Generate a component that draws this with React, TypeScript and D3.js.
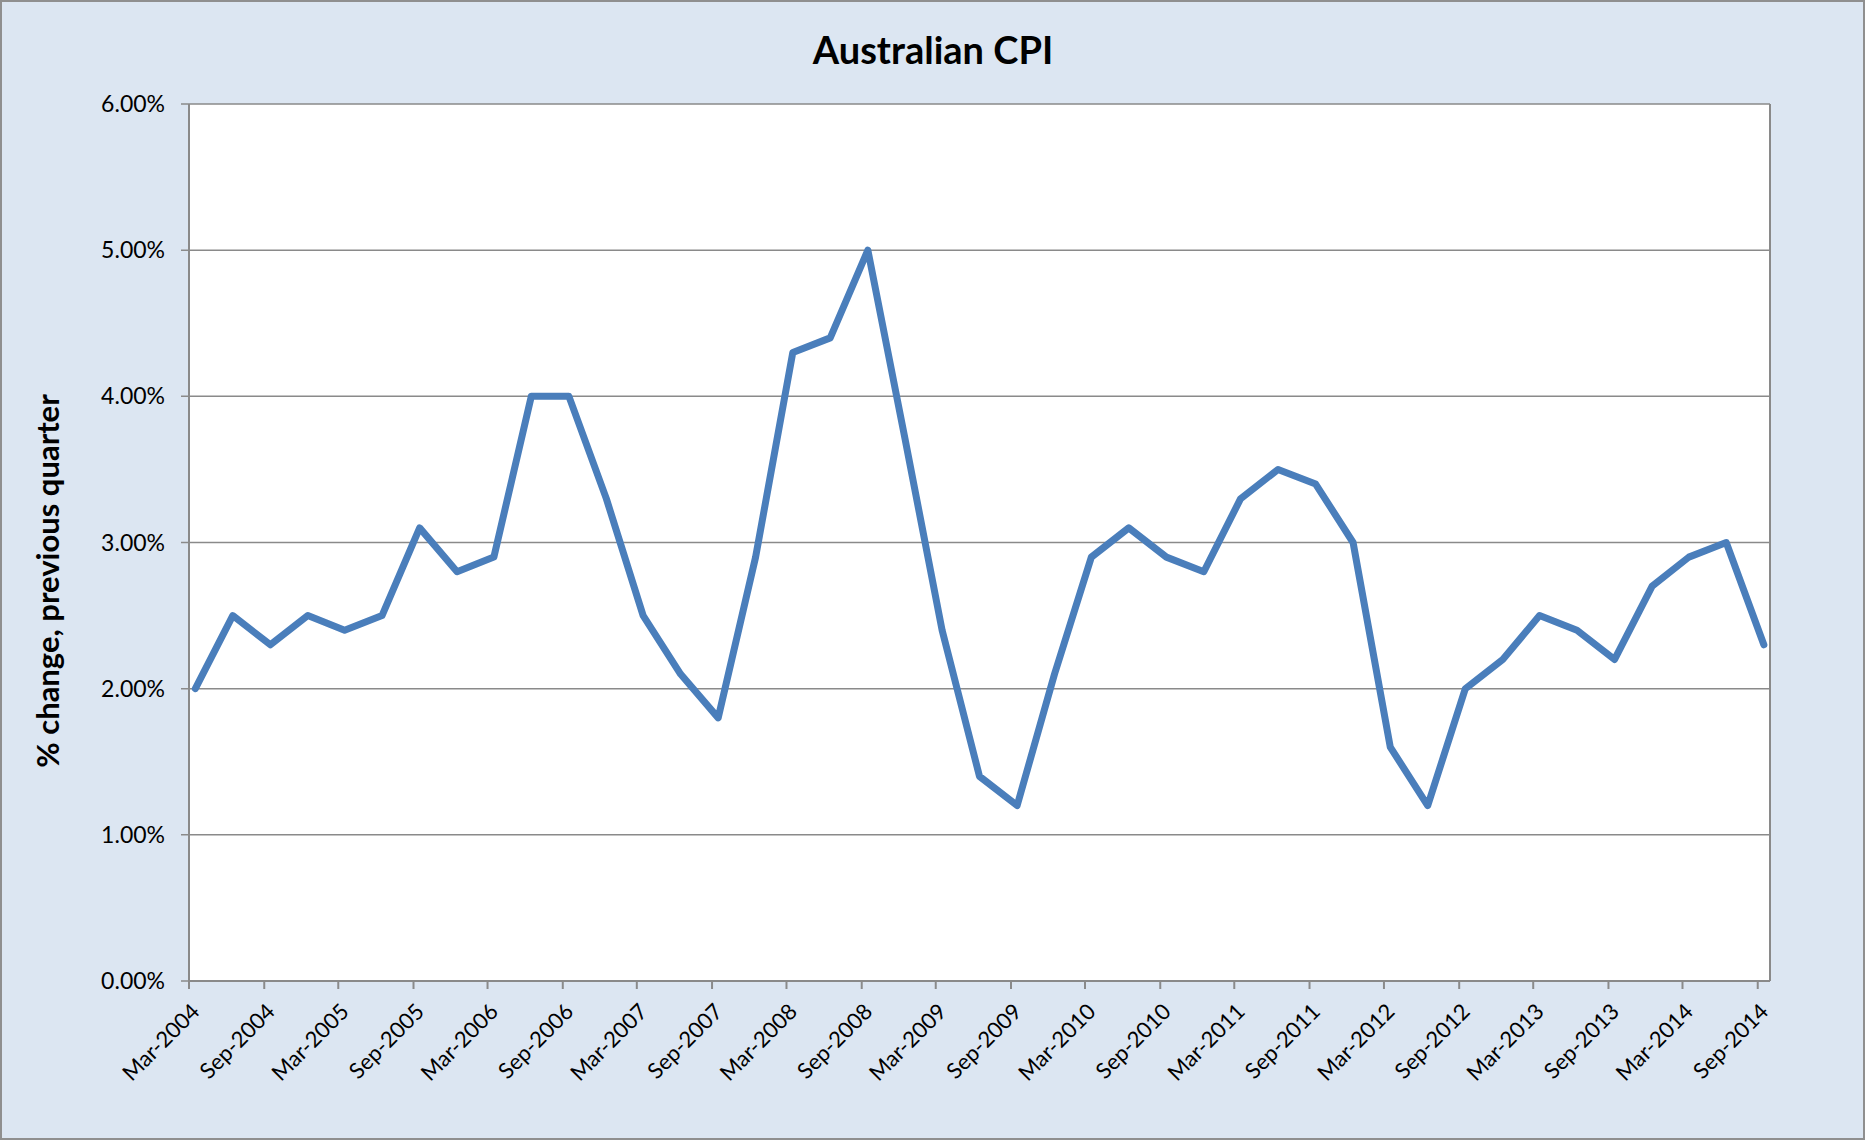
import React from "react";
import * as d3 from "d3";

const chartTitle = "Australian CPI";
const yAxisTitle = "% change, previous quarter";

const quarterLabels = [
  "Mar-2004", "Jun-2004", "Sep-2004", "Dec-2004",
  "Mar-2005", "Jun-2005", "Sep-2005", "Dec-2005",
  "Mar-2006", "Jun-2006", "Sep-2006", "Dec-2006",
  "Mar-2007", "Jun-2007", "Sep-2007", "Dec-2007",
  "Mar-2008", "Jun-2008", "Sep-2008", "Dec-2008",
  "Mar-2009", "Jun-2009", "Sep-2009", "Dec-2009",
  "Mar-2010", "Jun-2010", "Sep-2010", "Dec-2010",
  "Mar-2011", "Jun-2011", "Sep-2011", "Dec-2011",
  "Mar-2012", "Jun-2012", "Sep-2012", "Dec-2012",
  "Mar-2013", "Jun-2013", "Sep-2013", "Dec-2013",
  "Mar-2014", "Jun-2014", "Sep-2014",
];

const cpiValues = [
  2.0, 2.5, 2.3, 2.5,
  2.4, 2.5, 3.1, 2.8,
  2.9, 4.0, 4.0, 3.3,
  2.5, 2.1, 1.8, 2.9,
  4.3, 4.4, 5.0, 3.7,
  2.4, 1.4, 1.2, 2.1,
  2.9, 3.1, 2.9, 2.8,
  3.3, 3.5, 3.4, 3.0,
  1.6, 1.2, 2.0, 2.2,
  2.5, 2.4, 2.2, 2.7,
  2.9, 3.0, 2.3,
];

const xTickLabels = [
  "Mar-2004", "Sep-2004", "Mar-2005", "Sep-2005", "Mar-2006", "Sep-2006",
  "Mar-2007", "Sep-2007", "Mar-2008", "Sep-2008", "Mar-2009", "Sep-2009",
  "Mar-2010", "Sep-2010", "Mar-2011", "Sep-2011", "Mar-2012", "Sep-2012",
  "Mar-2013", "Sep-2013", "Mar-2014", "Sep-2014",
];

const yTicks = [0, 1, 2, 3, 4, 5, 6];

const W = 1866;
const H = 1141;
const plot = { left: 189, right: 1770, top: 104, bottom: 981 };
const FONT = "Lato, 'Open Sans', sans-serif";

const parseLabel = d3.timeParse("%b-%Y");

export default function App() {
  const domainStart = parseLabel(xTickLabels[0]) as Date;
  const lastMonth = parseLabel(quarterLabels[quarterLabels.length - 1]) as Date;
  const domainEnd = d3.timeMonth.offset(lastMonth, 1);

  const x = d3.scaleTime().domain([domainStart, domainEnd]).range([plot.left, plot.right]);
  const y = d3.scaleLinear().domain([0, 6]).range([plot.bottom, plot.top]);

  // points sit in the middle of their month
  const pointX = (label: string) => {
    const m0 = parseLabel(label) as Date;
    const m1 = d3.timeMonth.offset(m0, 1);
    return (x(m0) + x(m1)) / 2;
  };

  const line = d3
    .line<number>()
    .x((_, i) => pointX(quarterLabels[i]))
    .y((d) => y(d));

  const fmtY = (v: number) => v.toFixed(2) + "%";

  return (
    <div style={{ position: "absolute", left: 0, top: 0 }}>
      <svg width={W} height={H} style={{ display: "block" }}>
        <rect x={1} y={1} width={W - 3} height={H - 3} fill="#DCE6F2" stroke="#8F8F8F" strokeWidth={2} />
        <text
          x={W / 2}
          y={64}
          textAnchor="middle"
          fontFamily={FONT}
          fontWeight="bold"
          fontSize={38}
          fill="#000"
        >
          {chartTitle}
        </text>

        <rect
          x={plot.left}
          y={plot.top}
          width={plot.right - plot.left}
          height={plot.bottom - plot.top}
          fill="#FFFFFF"
        />

        {yTicks.map((t) => (
          <g key={t}>
            <line
              x1={plot.left - 8}
              x2={plot.right}
              y1={y(t)}
              y2={y(t)}
              stroke="#8A8A8A"
              strokeWidth={1.5}
            />
            <text
              x={165}
              y={y(t)}
              dy="0.35em"
              textAnchor="end"
              fontFamily={FONT}
              fontSize={23}
              fill="#000"
            >
              {fmtY(t)}
            </text>
          </g>
        ))}

        <line x1={plot.right} x2={plot.right} y1={plot.top} y2={plot.bottom} stroke="#8A8A8A" strokeWidth={2} />
        <line x1={plot.left} x2={plot.left} y1={plot.top} y2={plot.bottom} stroke="#8A8A8A" strokeWidth={2} />
        <line x1={plot.left} x2={plot.right} y1={plot.bottom} y2={plot.bottom} stroke="#8A8A8A" strokeWidth={2} />

        {xTickLabels.map((lab) => {
          const tx = x(parseLabel(lab) as Date);
          return (
            <g key={lab}>
              <line x1={tx} x2={tx} y1={plot.bottom} y2={plot.bottom + 8} stroke="#8A8A8A" strokeWidth={2} />
              <text
                transform={`translate(${tx + 12},${plot.bottom + 32}) rotate(-45)`}
                textAnchor="end"
                fontFamily={FONT}
                fontSize={22}
                fill="#000"
              >
                {lab}
              </text>
            </g>
          );
        })}

        <path
          d={line(cpiValues) ?? ""}
          fill="none"
          stroke="#4A7EBB"
          strokeWidth={7}
          strokeLinejoin="round"
          strokeLinecap="round"
        />

        <text
          transform={`translate(59,581) rotate(-90)`}
          textAnchor="middle"
          fontFamily={FONT}
          fontWeight="bold"
          fontSize={31}
          fill="#000"
        >
          {yAxisTitle}
        </text>
      </svg>
    </div>
  );
}
